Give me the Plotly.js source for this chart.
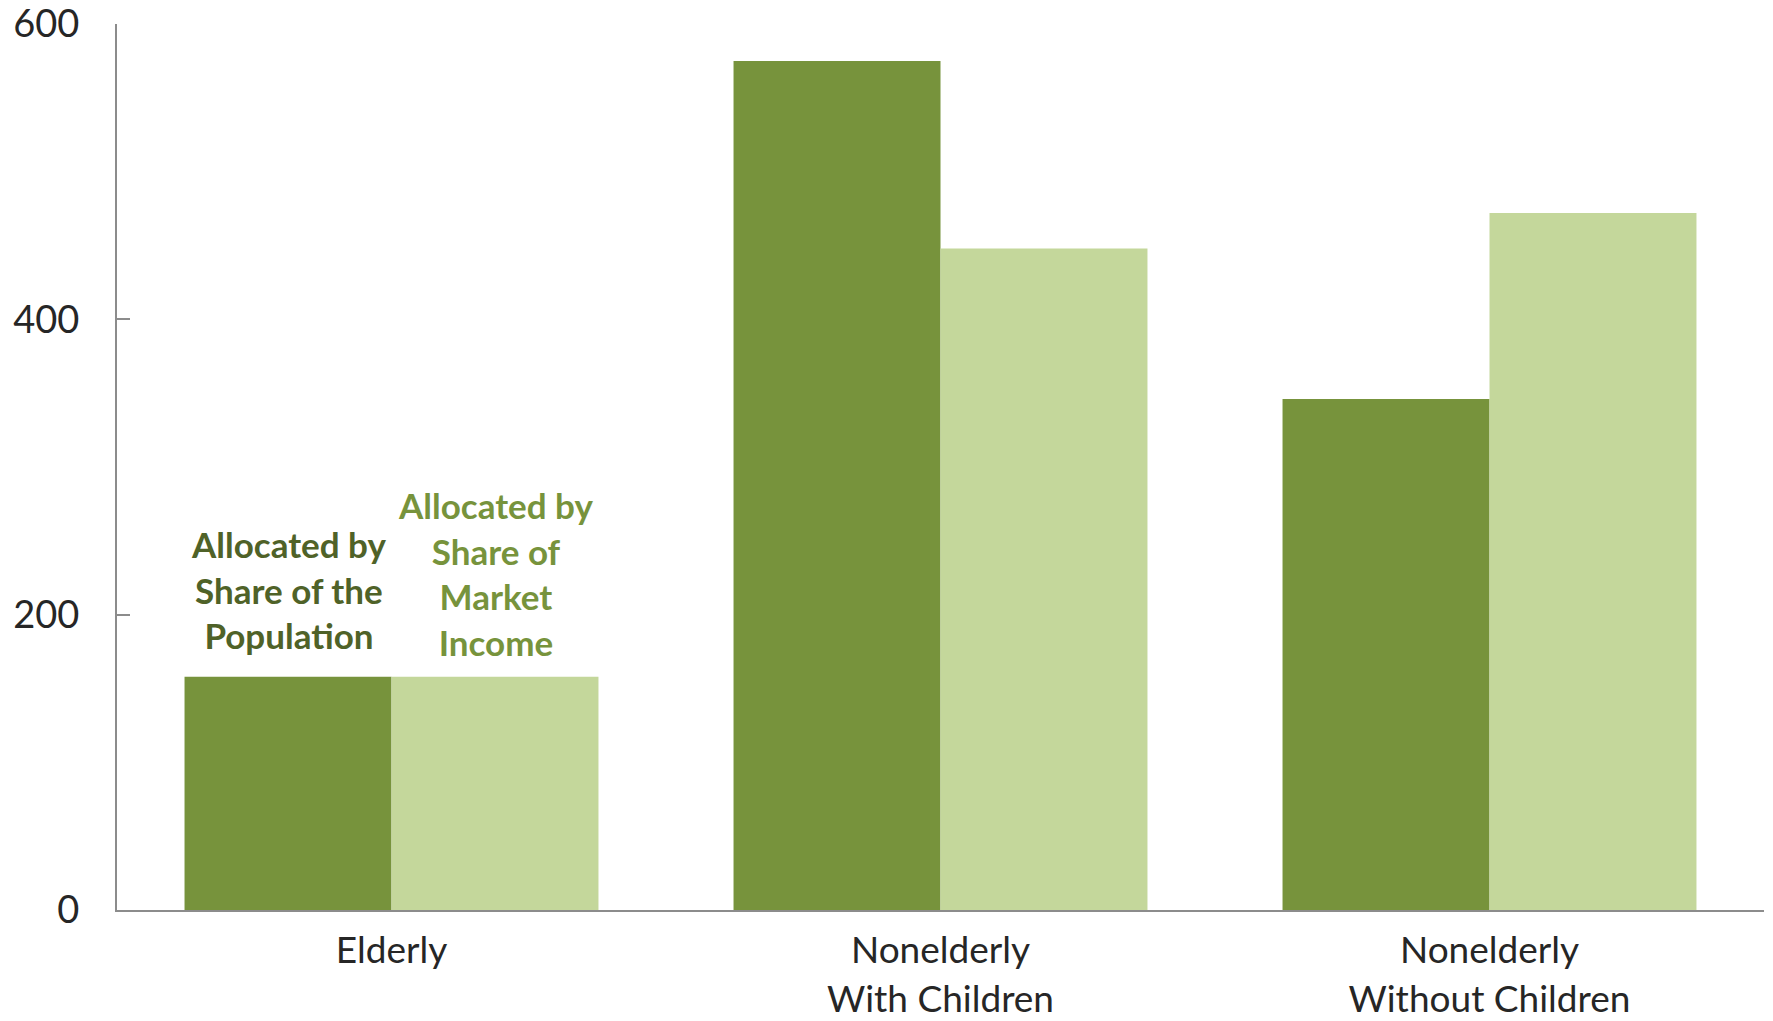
<!DOCTYPE html>
<html>
<head>
<meta charset="utf-8">
<script src="https://cdn.plot.ly/plotly-3.0.1.min.js"></script>
<style>html,body{margin:0;padding:0;background:#fff;}#chart{width:1773px;height:1021px;}</style>
</head>
<body>
<div id="chart"></div>
<script>
const categories = ["Elderly", "Nonelderly<br>With Children", "Nonelderly<br>Without Children"];
const populationShare = [158, 575, 346];
const marketIncomeShare = [158, 448, 472];
const seriesNames = ["Allocated by<br>Share of the<br>Population", "Allocated by<br>Share of<br>Market<br>Income"];
const yTicks = [0, 200, 400, 600];
const yTickText = ["0", "200", "400", "600"];

const darkGreen = "#77933c";
const lightGreen = "#c4d79b";

const traces = [
  {type: "bar", x: categories, y: populationShare, name: seriesNames[0],
   marker: {color: darkGreen}, hoverinfo: "skip"},
  {type: "bar", x: categories, y: marketIncomeShare, name: seriesNames[1],
   marker: {color: lightGreen}, hoverinfo: "skip"}
];

const layout = {
  width: 1773, height: 1021,
  margin: {l: 117, r: 9, t: 24, b: 111},
  paper_bgcolor: "#fff", plot_bgcolor: "#fff",
  barmode: "group", bargap: 0.246, bargroupgap: 0,
  showlegend: false,
  font: {family: "Lato, 'Open Sans', sans-serif", color: "#262626"},
  xaxis: {
    type: "category", showgrid: false, zeroline: false,
    showline: true, linecolor: "#8c8c8c", linewidth: 2,
    ticks: "", tickfont: {size: 37, color: "#262626"}, ticklabelstandoff: 7
  },
  yaxis: {
    range: [0, 600], tickvals: yTicks, ticktext: yTickText,
    showgrid: false, zeroline: false,
    showline: true, linecolor: "#8c8c8c", linewidth: 2,
    ticks: "inside", ticklen: 13, tickcolor: "#8c8c8c", tickwidth: 2,
    tickfont: {size: 38, color: "#262626"}, ticklabelstandoff: 28,
    ticklabeloverflow: "allow"
  },
  annotations: [
    {xref: "x", yref: "y", x: categories[0], y: populationShare[0], xshift: -103, yshift: 19,
     yanchor: "bottom", showarrow: false, text: "<b>" + seriesNames[0] + "</b>",
     font: {size: 35, color: "#4f6228", family: "Lato, 'Open Sans', sans-serif"}, align: "center"},
    {xref: "x", yref: "y", x: categories[0], y: marketIncomeShare[0], xshift: 104, yshift: 12,
     yanchor: "bottom", showarrow: false, text: "<b>" + seriesNames[1] + "</b>",
     font: {size: 35, color: "#77933c", family: "Lato, 'Open Sans', sans-serif"}, align: "center"}
  ]
};

Plotly.newPlot("chart", traces, layout, {staticPlot: true, displayModeBar: false});
</script>
</body>
</html>
